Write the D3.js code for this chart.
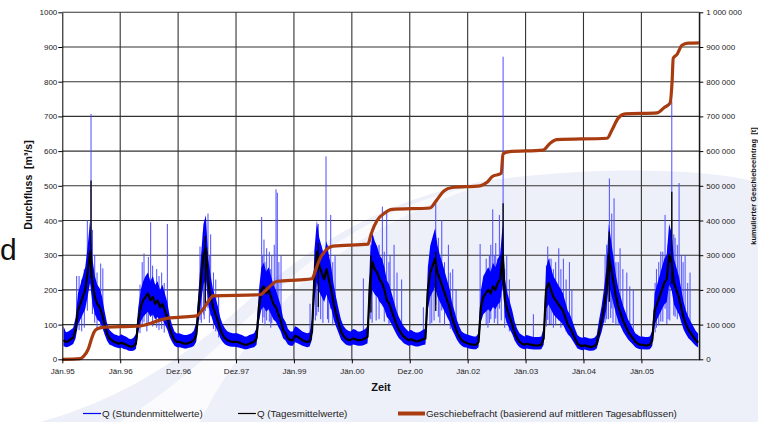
<!DOCTYPE html>
<html><head><meta charset="utf-8">
<script src="https://cdn.jsdelivr.net/npm/d3@7/dist/d3.min.js"></script>
<style>
body{margin:0;background:#fff}
svg{display:block}
text{font-family:"Liberation Sans",Arial,sans-serif}
</style>
</head><body>
<svg id="c" width="758" height="422"></svg>
<script>
// ---------------- DATA ----------------
// x tick labels (one tick every 365 days starting 1.1.1995)
const xTickLabels = ["Jän.95","Jän.96","Dez.96","Dez.97","Jän.99","Jän.00","Dez.00","Jän.02","Jän.03","Jän.04","Jän.05"];
const leftTicks = [0,100,200,300,400,500,600,700,800,900,1000];
const rightTicks = [0,100000,200000,300000,400000,500000,600000,700000,800000,900000,1000000];

// daily mean discharge (m³/s), 24 half-month values per year, years 1995..2005
const dailyMean = [
 [55,50,52,58,62,85,140,160,180,200,250,310,220,180,160,150,130,100,75,60,55,50,48,45],
 [48,45,42,38,36,38,45,110,150,170,180,190,170,180,160,170,150,160,140,120,90,70,55,50],
 [50,48,45,45,48,50,55,70,150,230,300,320,220,180,150,130,110,85,70,60,55,52,50,50],
 [50,48,45,42,42,45,48,50,60,150,200,210,190,200,180,160,150,130,113,85,75,60,55,55],
 [68,65,60,55,52,50,52,80,240,310,270,250,230,260,230,200,160,130,105,80,68,60,56,55],
 [60,58,55,55,57,60,65,220,280,260,250,230,220,200,170,160,140,120,100,85,75,65,60,55],
 [58,55,52,52,55,58,60,200,250,270,290,250,230,210,190,170,150,120,100,80,65,55,50,48],
 [45,43,42,42,50,150,180,190,200,190,210,200,220,230,300,170,140,120,100,75,60,50,45,42],
 [45,43,42,40,40,40,42,60,200,220,200,180,170,160,150,140,120,100,90,75,60,45,40,38],
 [40,38,36,36,38,45,80,110,150,200,300,260,220,180,150,130,110,95,80,70,60,50,45,42],
 [42,40,40,42,55,140,160,180,200,220,230,300,280,220,200,180,150,120,100,85,75,65,55,48]
];
// hourly values: lower and upper envelope per half month
const hourlyLow = [
 [38,35,36,40,44,60,100,115,130,145,180,220,160,130,115,108,94,72,54,43,40,36,34,32],
 [33,30,28,25,24,25,30,78,108,122,130,137,122,130,115,122,108,115,100,86,64,50,39,35],
 [35,33,31,31,33,35,38,50,108,165,215,230,158,130,108,94,79,61,50,43,39,37,36,36],
 [35,33,31,29,29,31,33,35,42,108,144,151,137,144,130,115,108,94,81,61,54,43,39,39],
 [49,46,43,39,37,35,37,57,172,223,194,180,165,187,165,144,115,94,76,57,49,43,40,39],
 [43,41,39,39,40,43,46,158,200,187,180,165,158,144,122,115,100,86,72,61,54,46,43,39],
 [41,39,37,37,39,41,43,144,180,194,208,180,165,151,137,122,108,86,72,57,46,39,35,34],
 [31,30,29,29,35,108,130,137,144,137,151,144,158,165,215,122,100,86,72,54,43,35,31,29],
 [31,30,29,28,28,28,29,42,144,158,144,130,122,115,108,100,86,72,65,54,43,31,28,26],
 [28,26,25,25,26,31,57,79,108,144,215,187,158,130,108,94,79,68,57,50,43,35,31,29],
 [29,28,28,29,38,100,115,130,144,158,165,215,200,158,144,130,108,86,72,61,54,46,39,34]
];
const hourlyHigh = [
 [95,78,80,85,90,120,190,215,240,265,325,400,290,240,215,205,180,140,105,85,78,72,70,67],
 [72,68,65,60,58,62,72,150,200,225,240,250,225,240,215,225,200,215,190,165,125,98,80,74],
 [75,72,70,70,72,75,82,105,200,300,390,415,290,240,200,178,152,120,100,88,80,77,75,75],
 [75,72,70,66,66,70,72,75,90,200,265,278,252,265,240,215,200,178,156,120,108,88,80,80],
 [95,92,86,80,77,75,77,115,315,400,350,325,300,340,300,265,215,178,145,115,97,87,82,80],
 [87,85,80,80,83,87,95,290,365,340,325,300,290,265,228,215,190,165,140,122,108,95,87,80],
 [85,80,77,77,80,85,88,265,328,353,378,328,300,278,253,228,203,165,140,115,95,80,75,72],
 [70,68,66,66,75,200,240,252,265,252,278,265,290,303,390,228,190,165,140,108,88,75,70,66],
 [70,68,66,64,64,64,66,90,265,290,265,240,228,215,203,190,165,140,128,108,88,70,64,62],
 [64,62,60,60,62,70,115,153,203,265,390,340,290,240,203,178,153,134,115,102,88,75,70,66],
 [66,64,64,66,82,190,215,240,265,290,303,390,365,290,265,240,203,165,140,122,108,95,82,74]
];
// hourly peaks [time in years since 1.1.1995, m³/s]
const hourlyPeaks = [
 [0.248,240],[0.29,240],[0.335,230],[0.38,260],[0.432,400],[0.496,707],[0.52,373],[0.56,300],[0.60,250],[0.663,276],[0.70,262],
 [1.342,215],[1.38,280],[1.411,305],[1.46,230],[1.486,295],[1.526,395],[1.56,270],[1.63,260],[1.67,240],[1.716,250],[1.76,220],[1.814,390],
 [2.378,325],[2.40,300],[2.436,368],[2.45,330],[2.47,397],[2.516,420],[2.54,300],[2.562,360],[2.61,250],[2.65,230],[2.70,180],
 [3.443,410],[3.46,300],[3.483,345],[3.50,280],[3.529,320],[3.575,310],[3.60,260],[3.617,300],[3.66,330],[3.691,490],[3.713,480],[3.74,280],[3.777,300],
 [4.278,160],[4.37,320],[4.393,360],[4.421,390],[4.462,330],[4.50,300],[4.554,585],[4.58,330],[4.60,300],[4.635,416],[4.67,280],[4.71,300],
 [5.199,233],[5.326,330],[5.35,300],[5.42,320],[5.47,330],[5.527,440],[5.56,310],[5.602,430],[5.64,280],[5.66,300],[5.729,330],[5.78,250],[5.86,230],
 [6.235,150],[6.35,280],[6.38,300],[6.42,320],[6.449,449],[6.494,350],[6.52,300],[6.553,401],[6.60,280],[6.667,330],[6.70,250],[6.742,260],[6.80,200],
 [7.215,332],[7.32,290],[7.35,260],[7.375,300],[7.40,330],[7.433,432],[7.46,300],[7.485,335],[7.52,290],[7.548,416],[7.58,320],[7.612,872],[7.64,260],[7.675,300],[7.72,230],
 [8.135,130],[8.36,270],[8.383,325],[8.41,290],[8.44,290],[8.48,260],[8.52,280],[8.573,320],[8.61,260],[8.653,290],[8.70,230],[8.757,280],[8.80,200],
 [9.373,300],[9.40,330],[9.43,330],[9.447,521],[9.47,340],[9.488,420],[9.51,300],[9.528,464],[9.56,280],[9.60,280],[9.632,320],[9.68,260],[9.748,250],[9.80,210],[9.86,200],
 [10.237,220],[10.26,260],[10.30,280],[10.335,310],[10.37,310],[10.409,416],[10.44,290],[10.461,330],[10.49,320],[10.525,744],[10.56,360],[10.582,350],[10.62,330],[10.651,508],[10.69,300],[10.72,280],[10.755,300],[10.80,220],[10.84,250]
];
// daily mean peaks [time, m³/s]
const dailyPeaks = [
 [0.496,515],[2.47,355],[4.421,335],[5.33,300],[6.449,310],[7.612,450],[9.447,368],[10.525,483]
];
// cumulative bedload (t)
const bedloadTime = [0,0.306,0.363,0.45,0.507,0.547,0.605,0.738,1.0,1.342,1.515,1.63,1.803,2.004,2.32,2.41,2.494,2.58,2.60,
 3.414,3.55,3.71,4.10,4.313,4.38,4.45,4.553,4.675,5.28,5.33,5.435,5.57,5.694,6.35,6.47,6.59,6.73,
 7.215,7.335,7.42,7.58,7.61,7.70,8.302,8.42,8.54,9.407,9.49,9.60,9.72,10.27,10.39,10.495,10.53,10.55,10.62,10.65,10.70,10.81,11.0];
const bedloadCum = [0,2000,8000,30000,60000,78000,88000,93000,94000,96000,103000,110000,118000,121000,125000,140000,160000,180000,183000,
 186000,205000,225000,229000,232000,260000,290000,315000,326000,332000,360000,400000,422000,432000,436000,460000,485000,495000,
 500000,510000,526000,536000,592000,598000,603000,622000,633000,637000,660000,695000,707000,710000,725000,738000,800000,868000,880000,890000,905000,911000,912000];

const legendItems = [
 {label:"Q (Stundenmittelwerte)", color:"#0000ff", width:1.2},
 {label:"Q (Tagesmittelwerte)", color:"#000000", width:1.2},
 {label:"Geschiebefracht (basierend auf mittleren Tagesabflüssen)", color:"#a83c10", width:4}
];

// ---------------- CHART ----------------
const svg = d3.select("#c");
const L = 62.3, R = 699.3, T = 12.3, B = 359.3;
const x = d3.scaleLinear().domain([0, 11]).range([L, R]);
const y = d3.scaleLinear().domain([0, 1000]).range([B, T]);
const y2 = d3.scaleLinear().domain([0, 1000000]).range([B, T]);

// background watermark tint
svg.append("path")
  .attr("d","M40,422 C150,392 215,330 260,290 C330,232 400,196 485,181 C580,168 690,166 758,182 L758,422 Z")
  .attr("fill","#eef0f9");
svg.append("path")
  .attr("d","M120,422 C190,380 245,318 300,270 C360,222 420,196 485,184 C420,205 350,240 300,285 C255,330 220,380 200,422 Z")
  .attr("fill","#ffffff").attr("opacity",0.75);

// grid
const g = svg.append("g");
g.selectAll(".hg").data(leftTicks.filter(d=>d>0)).join("line")
  .attr("x1",L).attr("x2",R).attr("y1",d=>y(d)).attr("y2",d=>y(d))
  .attr("stroke","#333").attr("stroke-width",1.1);
g.selectAll(".vg").data(d3.range(1,12)).join("line")
  .attr("x1",d=>x(d)).attr("x2",d=>x(d)).attr("y1",T).attr("y2",B)
  .attr("stroke","#333").attr("stroke-width",1.1);

// build series
const pts = [];
dailyMean.forEach((yr,k)=>yr.forEach((v,i)=>{
  pts.push({t:k+(i+0.5)/24, d:v, lo:hourlyLow[k][i], hi:hourlyHigh[k][i]});
}));

const plot = svg.append("g");
// hourly spikes
plot.selectAll(".sp").data(hourlyPeaks).join("line")
  .attr("x1",d=>x(d[0])).attr("x2",d=>x(d[0]))
  .attr("y1",d=>y(d[1])).attr("y2",d=>y(d[1]*0.35))
  .attr("stroke","#4d4dff").attr("stroke-width",1);
// hourly band
plot.append("path").datum(pts)
  .attr("d", d3.area().x(d=>x(d.t)).y0(d=>y(d.lo)).y1(d=>y(d.hi)))
  .attr("fill","#0000ff");
// daily spikes
plot.selectAll(".dp").data(dailyPeaks).join("line")
  .attr("x1",d=>x(d[0])).attr("x2",d=>x(d[0]))
  .attr("y1",d=>y(d[1])).attr("y2",d=>y(d[1]*0.45))
  .attr("stroke","#000").attr("stroke-width",1.3);
// daily line
plot.append("path").datum(pts)
  .attr("d", d3.line().x(d=>x(d.t)).y(d=>y(d.d)))
  .attr("fill","none").attr("stroke","#000").attr("stroke-width",2.2).attr("stroke-linejoin","round");
// bedload
plot.append("path").datum(bedloadTime.map((t,i)=>[t,bedloadCum[i]]))
  .attr("d", d3.line().x(d=>x(d[0])).y(d=>y2(d[1])).curve(d3.curveMonotoneX))
  .attr("fill","none").attr("stroke","#a83c10").attr("stroke-width",3.2)
  .attr("stroke-linejoin","round");

// axes
const fmtR = d3.formatLocale({decimal:",",thousands:" ",grouping:[3],currency:["",""]}).format(",");
function styleAxis(sel){
  sel.selectAll("text").attr("font-size",8).attr("fill","#222").attr("font-family","'Liberation Sans',Arial,sans-serif");
  sel.selectAll("line").attr("stroke","#000");
  sel.select(".domain").attr("stroke","#000");
}
svg.append("g").attr("transform",`translate(${L},0)`)
  .call(d3.axisLeft(y).tickValues(leftTicks).tickSize(4).tickPadding(1).tickSizeOuter(0).tickFormat(d3.format("d")))
  .call(styleAxis);
svg.append("g").attr("transform",`translate(${R},0)`)
  .call(d3.axisRight(y2).tickValues(rightTicks).tickSize(4).tickPadding(3).tickSizeOuter(0).tickFormat(fmtR))
  .call(styleAxis);
svg.append("g").attr("transform",`translate(0,${B})`)
  .call(d3.axisBottom(x).tickValues(d3.range(0,11)).tickSize(4).tickPadding(5).tickSizeOuter(0).tickFormat(i=>xTickLabels[i]))
  .call(styleAxis);

// titles
svg.append("text").attr("transform","translate(32,185) rotate(-90)")
  .attr("text-anchor","middle").attr("font-size",10.5).attr("font-weight","bold").attr("fill","#111")
  .attr("xml:space","preserve").text("Durchfluss  [m³/s]");
svg.append("text").attr("transform","translate(756,186) rotate(-90)")
  .attr("text-anchor","middle").attr("font-size",7.5).attr("font-weight","bold").attr("fill","#111")
  .attr("xml:space","preserve").text("kumulierter Geschiebeeintrag  [t]");
svg.append("text").attr("x",381).attr("y",391).attr("text-anchor","middle")
  .attr("font-size",11).attr("font-weight","bold").attr("fill","#111").text("Zeit");

// stray letter from neighbouring slide
svg.append("text").attr("x",0).attr("y",260).attr("font-size",30).attr("fill","#111").text("d");

// legend
const legX = [83, 238, 398];
const lg = svg.append("g");
legendItems.forEach((it,i)=>{
  lg.append("line").attr("x1",legX[i]).attr("x2",legX[i]+(i==2?27:18)).attr("y1",413.5).attr("y2",413.5)
    .attr("stroke",it.color).attr("stroke-width",it.width);
  lg.append("text").attr("x",legX[i]+(i==2?28:19)).attr("y",417).attr("font-size",9.8).attr("fill","#222").text(it.label);
});
</script>
</body></html>
